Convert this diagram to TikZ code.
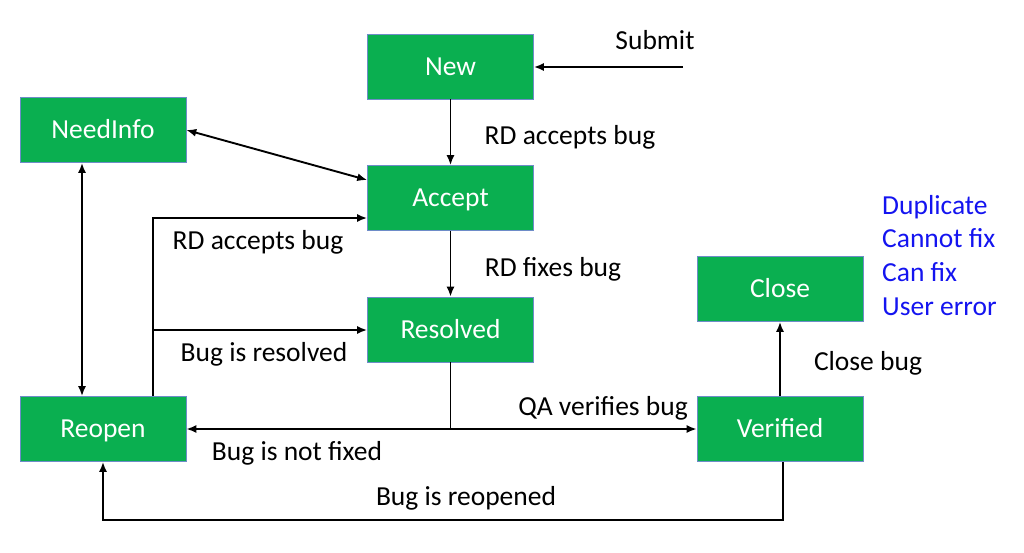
\documentclass[tikz,border=0pt]{standalone}
\usepackage{fontspec}
\setmainfont{Carlito}
\usetikzlibrary{arrows.meta}
\definecolor{boxgreen}{RGB}{10,175,80}
\definecolor{boxedge}{RGB}{110,140,200}
\definecolor{noteblue}{RGB}{20,20,240}
\begin{document}
\begin{tikzpicture}[x=1pt,y=-1pt,
  state/.style={draw=boxedge, line width=0.6pt, fill=boxgreen, text=white,
    minimum width=166pt, minimum height=65pt, inner sep=0pt,
    text height=17.7pt, text depth=0pt, font=\fontsize{27.5}{30}\selectfont},
  lbl/.style={anchor=base, inner sep=0pt, font=\fontsize{27.5}{30}\selectfont},
  note/.style={anchor=base west, inner sep=0pt, text=noteblue, font=\fontsize{27.5}{30}\selectfont},
  wire/.style={line width=1.9pt},
  conn/.style={wire, -{Latex[length=10pt,width=8pt]}},
  both/.style={wire, {Latex[length=10pt,width=8pt]}-{Latex[length=10pt,width=8pt]}}]
\useasboundingbox (0,0) rectangle (1024,552);
\fill[white] (0,0) rectangle (1024,552);

\node[state] (new) at (450.5,66.5) {New};
\node[state] (needinfo) at (103,130) {NeedInfo};
\node[state] (accept) at (450.5,198) {Accept};
\node[state] (resolved) at (450.5,329.5) {Resolved};
\node[state] (close) at (780,289) {Close};
\node[state] (reopen) at (103,429) {Reopen};
\node[state] (verified) at (780,429) {Verified};

% Submit
\coordinate (submit) at (683,67);
\draw[conn] (submit) -- (submit -| new.east);
\node[lbl] (lsubmit) at (655,49) {Submit};

% New -> Accept
\draw[conn] (new) -- (accept);
\node[lbl] (lacc1) at (570,144) {RD accepts bug};

% Accept -> Resolved
\draw[conn] (accept) -- (resolved);
\node[lbl] (lfix) at (553,276) {RD fixes bug};

% NeedInfo <-> Accept
\draw[both] (needinfo.east) -- ([yshift=18pt]accept.west);

% NeedInfo <-> Reopen
\draw[both] ([xshift=-21pt]needinfo.south) -- ([xshift=-21pt]reopen.north);

% Reopen -> Accept, branch -> Resolved
\draw[conn] ([xshift=50pt]reopen.north) |- ([yshift=-20pt]accept.west);
\coordinate (j1) at (153,330);
\draw[conn] (j1) -- (j1 -| resolved.west);
\node[lbl] (lacc2) at (258,249) {RD accepts bug};
\node[lbl] (lres) at (264,361) {Bug is resolved};

% Resolved -> Verified / Reopen
\coordinate (j2) at (resolved.south |- verified.west);
\draw[wire] (resolved.south) -- (j2);
\draw[conn] (j2) -- (verified.west);
\draw[conn] (j2) -- (reopen.east);
\node[lbl] (lqa) at (603,415) {QA verifies bug};
\node[lbl] (lnot) at (297,460) {Bug is not fixed};

% Verified -> Close
\draw[conn] (verified) -- (close);
\node[lbl] (lclose) at (868,370) {Close bug};

% Verified -> Reopen
\draw[conn] ([xshift=3pt]verified.south) -- ++(0,58) -| (reopen.south);
\node[lbl] (lreop) at (466,505) {Bug is reopened};

% Close reasons
\node[note] (r1) at (882,214) {Duplicate};
\node[note] (r2) at (882,247.5) {Cannot fix};
\node[note] (r3) at (882,281.5) {Can fix};
\node[note] (r4) at (882,315) {User error};
\end{tikzpicture}
\end{document}
